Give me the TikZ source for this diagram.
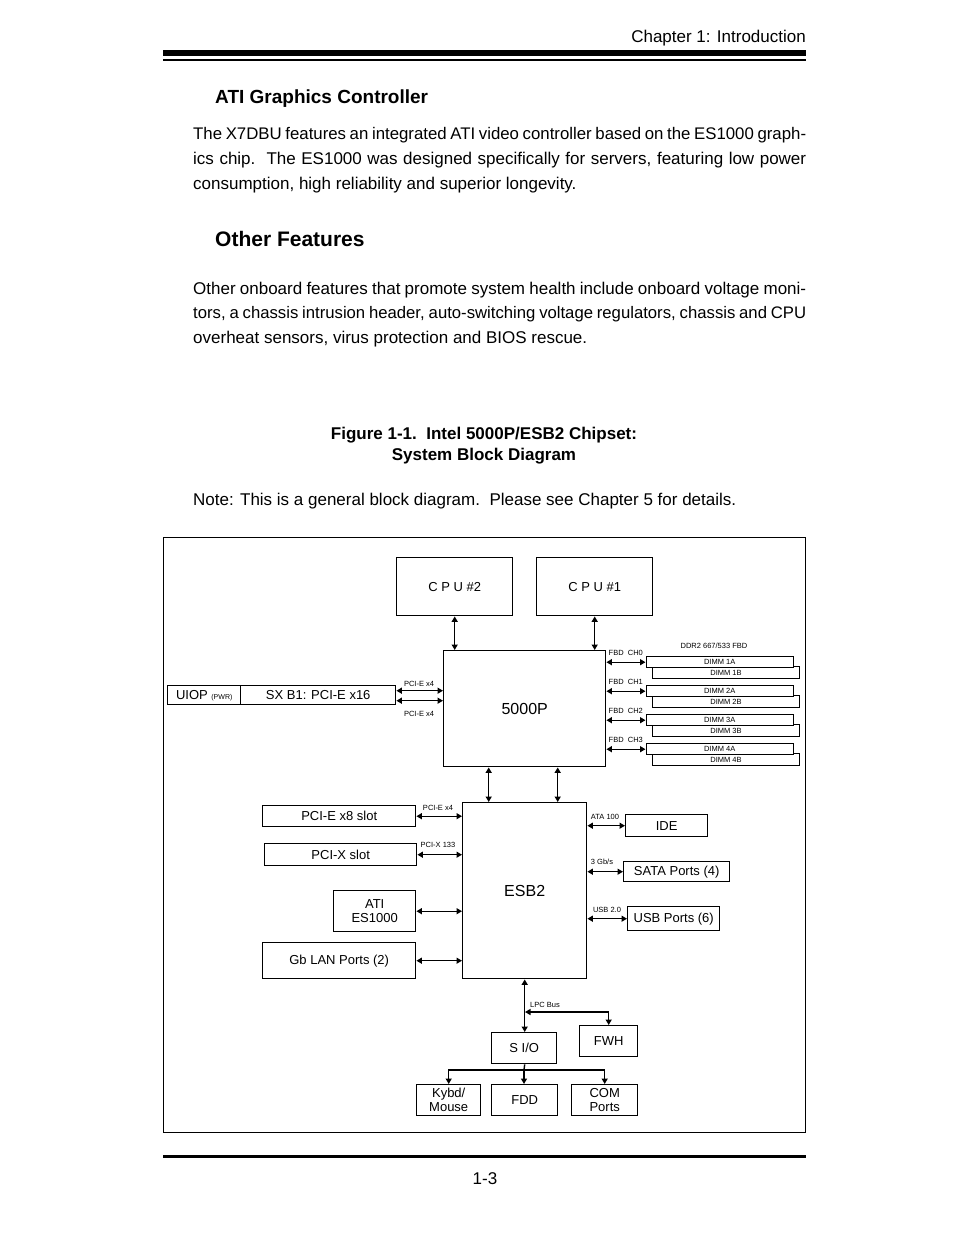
\documentclass[tikz,border=0pt]{standalone}
\usepackage{fontspec}
\setmainfont{Liberation Sans}
\newfontfamily\dgm{Liberation Sans}
\usetikzlibrary{arrows.meta}
\begin{document}
\begin{tikzpicture}[x=1pt,y=-1pt,
  box/.style={draw, line width=1.4pt, inner sep=0pt, align=center, fill=white, anchor=north west,
    font=\dgm\fontsize{13}{14}\selectfont},
  lnk/.style={line width=1.4pt, {Triangle[length=5.5pt,width=6pt]}-{Triangle[length=5.5pt,width=6pt]}},
  tip/.style={line width=1.4pt, -{Triangle[length=5.5pt,width=6pt]}},
  sm/.style={font=\dgm\fontsize{7.5}{8}\selectfont, inner sep=0pt},
  body/.style={anchor=base west, inner sep=0pt, font=\fontsize{17}{25}\selectfont},
]
\useasboundingbox (0,0) rectangle (954,1235);
\fill[white] (0,0) rectangle (954,1235);

% header / footer
\node[anchor=base east, inner sep=0pt, font=\fontsize{17}{20}\selectfont] (hdr) at (806,42) {Chapter 1: Introduction};
\fill (163,50) rectangle (806,56);
\fill (163,58.5) rectangle (806,60.5);
\fill (163,1154.5) rectangle (806,1157.5);
\node[anchor=base, inner sep=0pt, font=\fontsize{17}{20}\selectfont] (pg) at (485,1184) {1-3};

% texts
\node[anchor=base west, inner sep=0pt, font=\fontsize{19}{22}\bfseries] (h1) at (215,103) {ATI Graphics Controller};
\node[body, font=\fontsize{16.8}{25}\selectfont] (p1a) at (193,139) {\makebox[613pt][s]{The X7DBU features an integrated ATI video controller based on the ES1000 graph-}};
\node[body] (p1b) at (193,164) {\makebox[613pt][s]{ics chip.\ \ The ES1000 was designed specifically for servers, featuring low power}};
\node[body] (p1c) at (193,189) {consumption, high reliability and superior longevity.};

\node[anchor=base west, inner sep=0pt, font=\fontsize{21}{24}\bfseries] (h2) at (215,246) {Other Features};
\node[body] (p2a) at (193,294) {\makebox[613pt][s]{Other onboard features that promote system health include onboard voltage moni-}};
\node[body, font=\fontsize{16.7}{25}\selectfont] (p2b) at (193,318) {\makebox[613pt][s]{tors, a chassis intrusion header, auto-switching voltage regulators, chassis and CPU}};
\node[body] (p2c) at (193,343) {overheat sensors, virus protection and BIOS rescue.};

\node[anchor=base, inner sep=0pt, font=\fontsize{17}{20}\bfseries] (cap1) at (484,439) {Figure 1-1.\ \ Intel 5000P/ESB2 Chipset:};
\node[anchor=base, inner sep=0pt, font=\fontsize{17}{20}\bfseries] (cap2) at (484,460) {System Block Diagram};
\node[body] (note) at (193,505) {Note: This is a general block diagram.\ \ Please see Chapter 5 for details.};

% frame
\draw[line width=1pt] (163.5,537) rectangle (805.5,1132);

% blocks
\node[box, minimum width=116pt, minimum height=58pt] (cpu2) at (396,557) {C P U \#2};
\node[box, minimum width=116pt, minimum height=58pt] (cpu1) at (536,557) {C P U \#1};
\node[box, minimum width=162pt, minimum height=116pt, font=\dgm\fontsize{16}{18}\selectfont] (mch) at (443,650) {5000P};
\node[box, minimum width=73pt, minimum height=19pt] (uiop) at (167,685) {UIOP {\fontsize{7}{8}\selectfont(PWR)}};
\node[box, minimum width=155pt, minimum height=19pt] (sxb) at (240,685) {SX B1: PCI-E x16};

% DIMMs
\node[sm] (ddr) at (714,646) {DDR2 667/533 FBD};
\foreach \k/\y in {1/656,2/685,3/714,4/743}{
  \node[box, minimum width=147pt, minimum height=12pt] (d\k b) at (652,\y+10) {\rule{0pt}{0pt}};
  \node[sm] (d\k bt) at (726,\y+17) {DIMM \k B};
  \node[box, minimum width=147pt, minimum height=11pt, font=\dgm\fontsize{7.5}{8}\selectfont] (d\k a) at (645.5,\y) {DIMM \k A};
}
\foreach \k/\c in {1/0,2/1,3/2,4/3}{
  \node[sm, anchor=west] (ch\k) at ([yshift=9pt]mch.east |- d\k a.west) {\ FBD\ \ CH\c};
  \draw[lnk] (d\k a.west -| mch.east) -- (d\k a.west);
}

% CPU / MCH / ESB links
\draw[lnk] (cpu2.south) -- (cpu2.south |- mch.north);
\draw[lnk] (cpu1.south) -- (cpu1.south |- mch.north);
\draw[lnk] ([yshift=4.5pt]sxb.east) -- ([yshift=4.5pt]sxb.east -| mch.west);
\draw[lnk] ([yshift=-5.5pt]sxb.east) -- ([yshift=-5.5pt]sxb.east -| mch.west);
\node[sm] (lx1) at (419,684) {PCI-E x4};
\node[sm] (lx2) at (419,714) {PCI-E x4};

\node[box, minimum width=124pt, minimum height=176pt, font=\dgm\fontsize{16}{18}\selectfont] (esb) at (462,802) {ESB2};
\draw[lnk] ([xshift=-36pt]mch.south) -- ([xshift=-36pt]esb.north);
\draw[lnk] ([xshift=33pt]mch.south) -- ([xshift=33pt]esb.north);

% left of ESB2
\node[box, minimum width=153pt, minimum height=21pt] (pcie) at (262,805) {PCI-E x8 slot};
\node[box, minimum width=152pt, minimum height=22pt] (pcix) at (264,843) {PCI-X slot};
\node[box, minimum width=82pt, minimum height=41pt] (ati) at (333,890) {ATI\\ES1000};
\node[box, minimum width=153pt, minimum height=36pt] (lan) at (262,942) {Gb LAN Ports (2)};
\draw[lnk] (pcie.east) -- (pcie.east -| esb.west);
\draw[lnk] (pcix.east) -- (pcix.east -| esb.west);
\draw[lnk] (ati.east) -- (ati.east -| esb.west);
\draw[lnk] (lan.east) -- (lan.east -| esb.west);
\node[sm] (lx3) at (438,808) {PCI-E x4};
\node[sm] (lx4) at (438,845) {PCI-X 133};

% right of ESB2
\node[box, minimum width=82pt, minimum height=22pt] (ide) at (625,814) {IDE};
\node[box, minimum width=106pt, minimum height=20pt] (sata) at (623,861) {SATA Ports (4)};
\node[box, minimum width=92pt, minimum height=24pt] (usb) at (627,906) {USB Ports (6)};
\draw[lnk] (ide.west -| esb.east) -- (ide.west);
\draw[lnk] (sata.west -| esb.east) -- (sata.west);
\draw[lnk] (usb.west -| esb.east) -- (usb.west);
\node[sm] (lx5) at (605,817) {ATA 100};
\node[sm] (lx6) at (602,862) {3 Gb/s};
\node[sm] (lx7) at (607,910) {USB 2.0};

% bottom
\node[box, minimum width=65pt, minimum height=31pt] (sio) at (491,1032) {S I/O};
\node[box, minimum width=58pt, minimum height=31pt] (fwh) at (579,1025) {FWH};
\node[box, minimum width=64pt, minimum height=31pt] (kb) at (416,1084) {Kybd/\\Mouse};
\node[box, minimum width=66pt, minimum height=31pt] (fdd) at (491,1084) {FDD};
\node[box, minimum width=66pt, minimum height=31pt] (com) at (571,1084) {COM\\Ports};
\draw[lnk] (esb.south) -- (esb.south |- sio.north);
\coordinate (lpc) at (525,1012);
\draw[lnk] (lpc) -| (fwh.north);
\node[sm, anchor=west] (lpct) at (530,1005) {LPC Bus};
\coordinate (sb) at (524,1070);
\draw[line width=1.4pt] (esb.south |- sio.south) -- (sb);
\draw[tip] (sb) -| (kb.north);
\draw[tip] (sb) -- (sb |- fdd.north);
\draw[tip] (sb) -| (com.north);
\end{tikzpicture}
\end{document}
